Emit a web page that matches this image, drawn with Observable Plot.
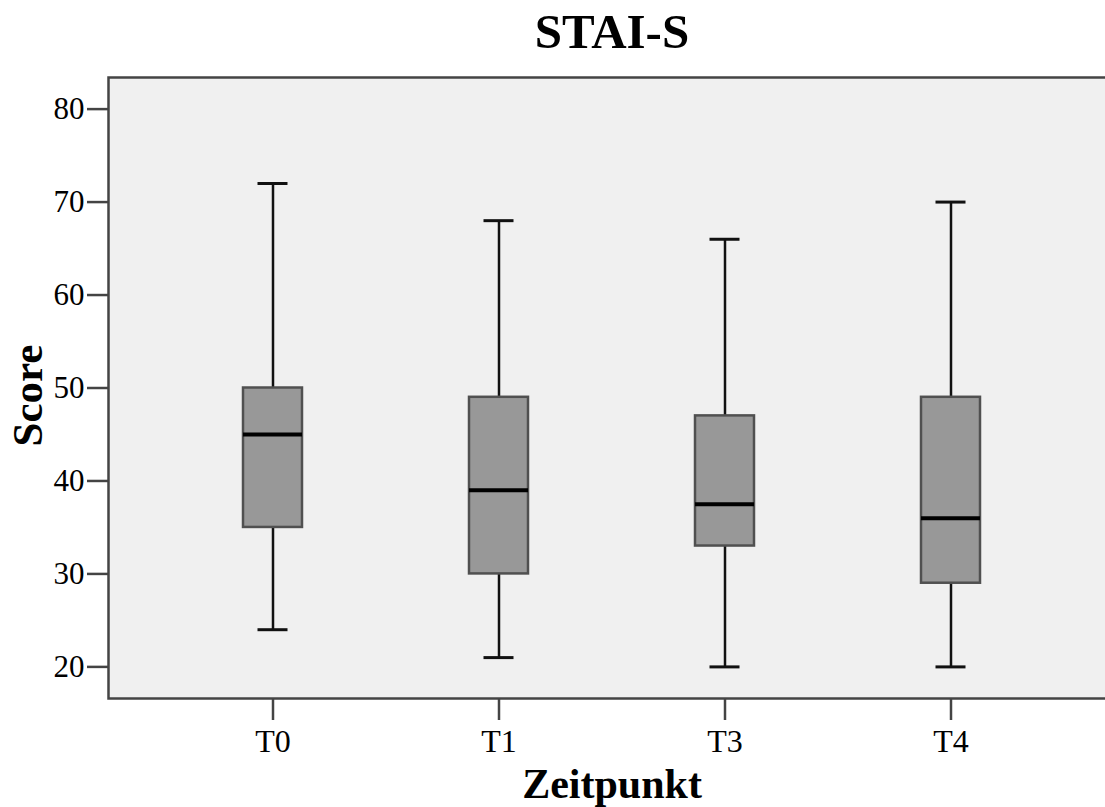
<!DOCTYPE html>
<html>
<head>
<meta charset="utf-8">
<script src="https://cdn.jsdelivr.net/npm/d3@7"></script>
<script src="https://cdn.jsdelivr.net/npm/@observablehq/plot@0.6"></script>
<style>
  html, body { margin: 0; padding: 0; background: white; }
  #wrap { position: relative; width: 1105px; height: 807px; overflow: hidden; }
  #title { position: relative; height: 62px; font-family: "Liberation Serif", serif; font-weight: bold; font-size: 49px; line-height: 49px; }
  #title span { position: absolute; left: 612px; top: 7px; transform: translateX(-50%); white-space: nowrap; color: #000; }
</style>
</head>
<body>
<div id="wrap">
  <div id="title"><span>STAI-S</span></div>
  <div id="chart"></div>
</div>
<script>
const categories = ["T0", "T1", "T3", "T4"];
const mins = [24, 21, 20, 20];
const q1s = [35, 30, 33, 29];
const medians = [45, 39, 37.5, 36];
const q3s = [50, 49, 47, 49];
const maxs = [72, 68, 66, 70];
const yTicks = [20, 30, 40, 50, 60, 70, 80];
const xTitle = "Zeitpunkt";
const yTitle = "Score";

const boxes = categories.map((c, i) => ({
  cat: c, min: mins[i], q1: q1s[i], med: medians[i], q3: q3s[i], max: maxs[i]
}));

const chart = Plot.plot({
  width: 1105,
  height: 745,
  marginTop: 15,
  marginBottom: 109,
  marginLeft: 108,
  marginRight: -10,
  style: { fontFamily: "Liberation Serif, serif", fontSize: "30px", background: "white", color: "black" },
  x: { type: "band", domain: categories, paddingInner: 0.739, paddingOuter: 0.597, label: null },
  y: { domain: [16.6, 83.4], label: null },
  marks: [
    Plot.frame({ fill: "#f0f0f0" }),
    Plot.frame({ stroke: "#444", strokeWidth: 2.5 }),
    Plot.ruleX(boxes, { x: "cat", y1: "min", y2: "max", stroke: "#111", strokeWidth: 2.5 }),
    Plot.tickY(boxes, { x: "cat", y: "min", stroke: "#111", strokeWidth: 3, insetLeft: 14.5, insetRight: 14.5 }),
    Plot.tickY(boxes, { x: "cat", y: "max", stroke: "#111", strokeWidth: 3, insetLeft: 14.5, insetRight: 14.5 }),
    Plot.barY(boxes, { x: "cat", y1: "q1", y2: "q3", fill: "#989898", stroke: "#505050", strokeWidth: 2.5 }),
    Plot.tickY(boxes, { x: "cat", y: "med", stroke: "#000", strokeWidth: 4 }),
    Plot.axisY({ ticks: yTicks, tickSize: 21, tickPadding: 3, fontSize: 31, label: null, stroke: "#444", strokeWidth: 2.5, fill: "black" }),
    Plot.axisX({ tickSize: 22, tickPadding: 9, fontSize: 32, label: null, stroke: "#444", strokeWidth: 2.5, fill: "black" }),
    Plot.text([xTitle], { frameAnchor: "bottom", lineAnchor: "top", dy: 70, fontSize: 42, fontWeight: "bold", fill: "black" }),
    Plot.text([yTitle], { frameAnchor: "left", textAnchor: "middle", lineAnchor: "middle", rotate: -90, dx: -80, dy: 7.5, fontSize: 43, fontWeight: "bold", fill: "black" })
  ]
});
document.getElementById("chart").appendChild(chart);
</script>
</body>
</html>
